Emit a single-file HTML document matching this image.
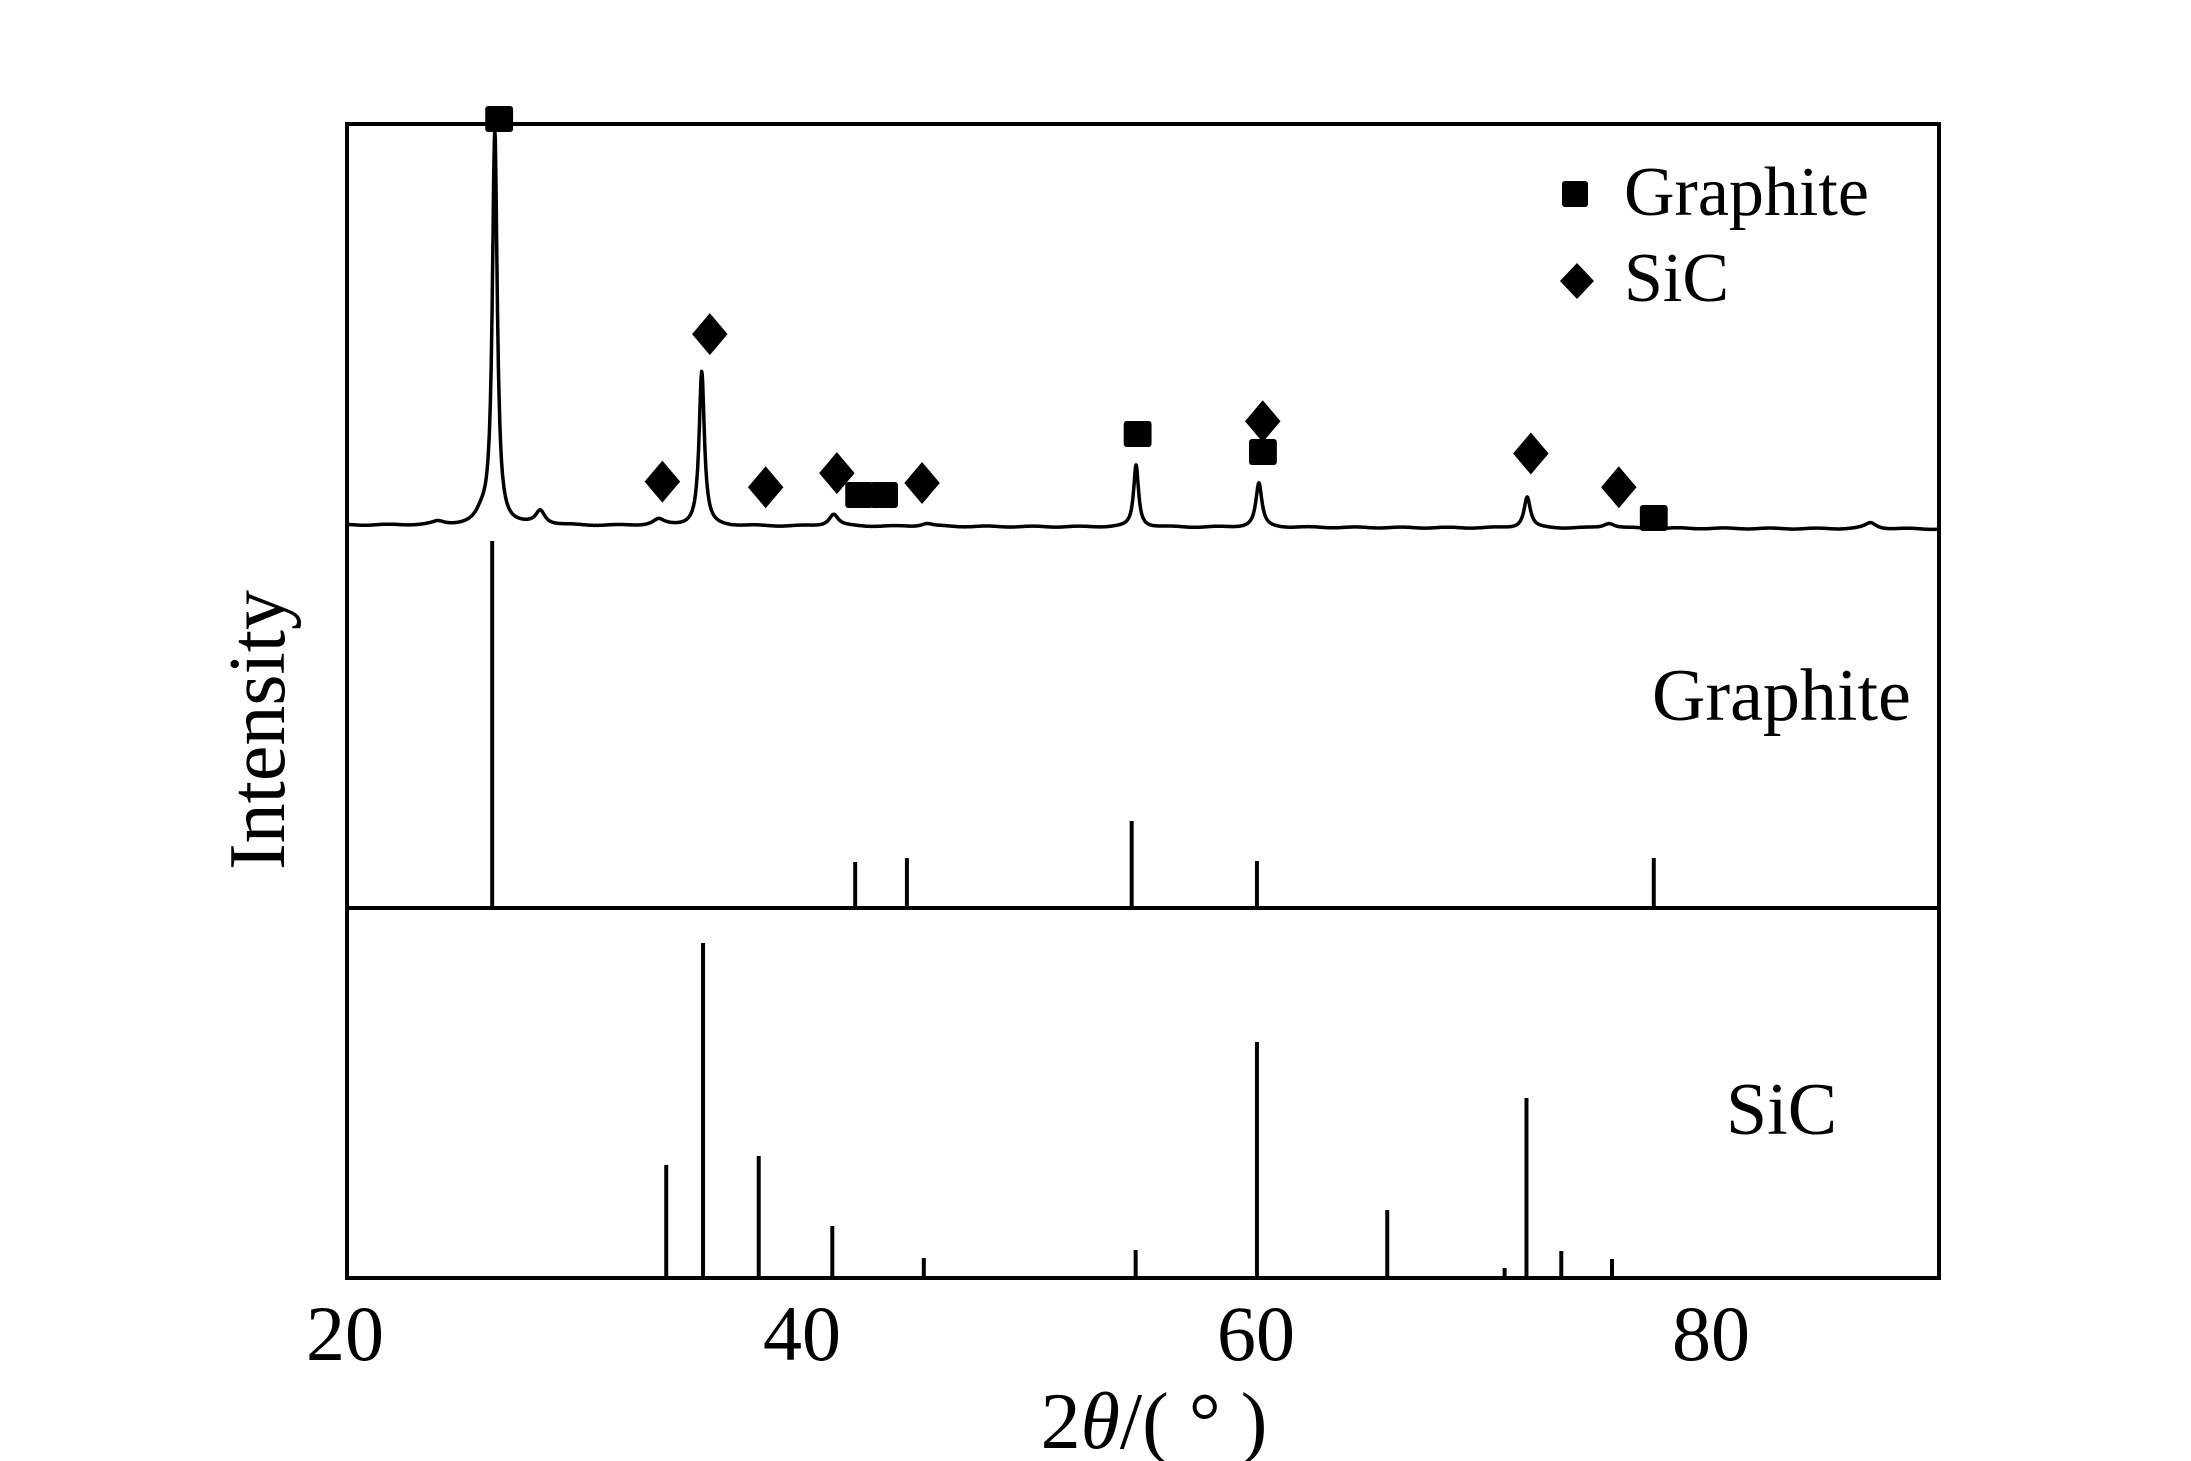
<!DOCTYPE html>
<html><head><meta charset="utf-8"><style>
html,body{margin:0;padding:0;background:#fff;}
svg{display:block;}
text{font-family:"Liberation Serif",serif;fill:#000;}
</style></head><body>
<svg id="s" width="2191" height="1461" viewBox="0 0 2191 1461" xmlns="http://www.w3.org/2000/svg">
<rect x="0" y="0" width="2191" height="1461" fill="#fff"/>
<path id="curve" d="" fill="none" stroke="#000" stroke-width="3.5" stroke-linejoin="round"/>
<g transform="translate(347,0) scale(0.9945,1) translate(-347,0)">
<g stroke="#000" stroke-width="4">
<line x1="493" y1="908" x2="493" y2="541"/>
<line x1="858" y1="908" x2="858" y2="862"/>
<line x1="910" y1="908" x2="910" y2="858"/>
<line x1="1136" y1="908" x2="1136" y2="821"/>
<line x1="1262" y1="908" x2="1262" y2="861"/>
<line x1="1661" y1="908" x2="1661" y2="858"/>
<line x1="668" y1="1278" x2="668" y2="1165"/>
<line x1="705" y1="1278" x2="705" y2="943"/>
<line x1="761" y1="1278" x2="761" y2="1156"/>
<line x1="835" y1="1278" x2="835" y2="1226"/>
<line x1="927" y1="1278" x2="927" y2="1258"/>
<line x1="1140" y1="1278" x2="1140" y2="1250"/>
<line x1="1262" y1="1278" x2="1262" y2="1042"/>
<line x1="1393" y1="1278" x2="1393" y2="1210"/>
<line x1="1511" y1="1278" x2="1511" y2="1268"/>
<line x1="1533" y1="1278" x2="1533" y2="1098"/>
<line x1="1568" y1="1278" x2="1568" y2="1251"/>
<line x1="1619" y1="1278" x2="1619" y2="1259"/>
</g>
<g fill="#000">
<rect x="486" y="106" width="28" height="26" rx="3"/>
<rect x="848" y="482" width="28" height="26" rx="3"/>
<rect x="873" y="482" width="28" height="26" rx="3"/>
<rect x="1128" y="421" width="28" height="26" rx="3"/>
<rect x="1254" y="439" width="28" height="26" rx="3"/>
<rect x="1647" y="505" width="28" height="26" rx="3"/>
</g>
<g fill="#000" id="dia"></g>
</g>
<rect x="347" y="124" width="1592" height="1154" fill="none" stroke="#000" stroke-width="4"/>
<line x1="347" y1="908" x2="1939" y2="908" stroke="#000" stroke-width="4"/>
<rect x="1562" y="181" width="26" height="26" rx="3" fill="#000"/>
<polygon points="1577,263 1594,281 1577,299 1560,281" fill="#000"/>
<text x="1624" y="215" font-size="70">Graphite</text>
<text x="1624" y="301" font-size="70">SiC</text>
<text x="1652" y="720" font-size="74">Graphite</text>
<text x="1726" y="1134" font-size="74">SiC</text>
<g font-size="78" text-anchor="middle">
<text x="345" y="1360">20</text>
<text x="802" y="1360">40</text>
<text x="1256" y="1360">60</text>
<text x="1711" y="1360">80</text>
</g>
<text x="1154" y="1448" font-size="80" text-anchor="middle">2<tspan font-style="italic">θ</tspan>/( ° )</text>
<text transform="translate(284,730) rotate(-90)" font-size="80" text-anchor="middle">Intensity</text>
</svg>
<script>
(function(){
var ns="http://www.w3.org/2000/svg";
var dia=[[473,343],[507,238],[547,347],[598,337],[659,344],[903,300],[1095,323],[1158,347]];
var g=document.getElementById("dia");
dia.forEach(function(p){
 var x=p[0]*1.404,y=p[1]*1.404,r=21;
 var e=document.createElementNS(ns,"polygon");
 e.setAttribute("points",(x)+","+(y-r)+" "+(x+r*0.85)+","+y+" "+x+","+(y+r)+" "+(x-r*0.85)+","+y);
 g.appendChild(e);
});
var peaks=[[26.5,394,0.13],[28.5,14,0.25],[25.9,8,0.3],[33.7,6,0.3],[35.6,154,0.14],[41.4,12,0.25],[45.5,3,0.3],[54.7,62,0.13],[60.1,44,0.16],[71.9,31,0.17],[75.5,5,0.3],[87,6,0.3],[24,3,0.3]];
var d="";
for(var t=20;t<=90;t+=0.02){
 var y=525+(t-20)/70*4+Math.sin(t*3.1)*0.5;
 peaks.forEach(function(p){var u=(t-p[0])/p[2];y-=p[1]/(1+u*u);});
 var x=347+(t-20)*22.74;
 d+=(d?"L":"M")+x.toFixed(1)+","+y.toFixed(1);
}
document.getElementById("curve").setAttribute("d",d);
})();
</script>
</body></html>
